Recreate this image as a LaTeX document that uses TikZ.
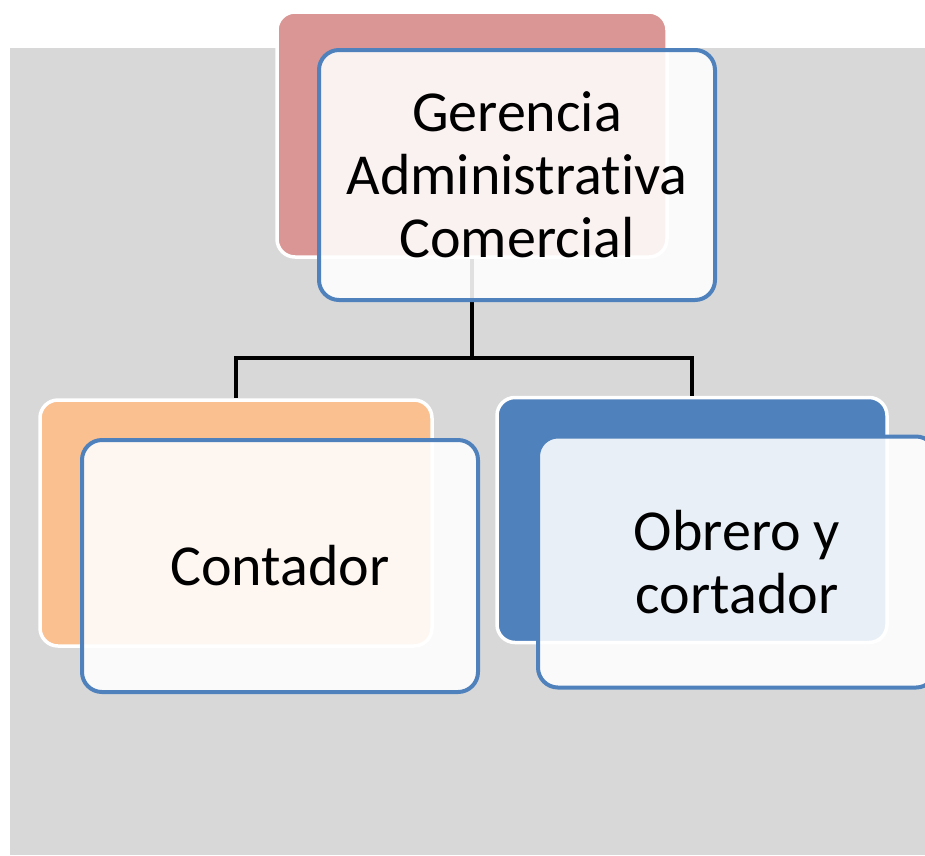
\documentclass[tikz,border=0pt]{standalone}
\usepackage{fontspec}
\setmainfont{Carlito}[Ligatures={NoCommon}]
\definecolor{bggray}{HTML}{D8D8D8}
\definecolor{pinkbox}{HTML}{D99694}
\definecolor{orangebox}{HTML}{FAC090}
\definecolor{bluebox}{HTML}{4F81BD}
\begin{document}
\begin{tikzpicture}[x=1pt,y=-1pt,
  backbox/.style={draw=white,line width=3.5pt,rounded corners=18pt,minimum width=390pt,minimum height=245pt,inner sep=0pt},
  frontbox/.style={draw=bluebox,line width=4pt,rounded corners=20pt,fill=white,fill opacity=0.88,text opacity=1,minimum width=396pt,minimum height=251pt,inner sep=0pt,align=center,font=\fontsize{58}{63}\selectfont},
  conn/.style={draw=black,line width=4pt}]
\useasboundingbox (0,0) rectangle (925,855);
\clip (0,0) rectangle (925,855);
\fill[bggray] (10,48) rectangle (925,855);
% back boxes
\node[backbox,fill=pinkbox] (tb) at (472,134.5) {};
\node[backbox,fill=orangebox,minimum width=392pt,minimum height=246pt] (lb) at (236,523) {};
\node[backbox,fill=bluebox] (rb) at (692,520) {};
% connectors
\coordinate (j) at (472,358);
\draw[conn] (tb.south) -- (j) -| (lb.north);
\draw[conn] (j) -| (rb.north);
% front boxes
\node[frontbox,minimum height=250pt] (tf) at (517,175) {Gerencia\\Administrativa\\Comercial};
\node[frontbox,minimum height=252pt] (lf) at (280,566) {Contador};
\node[frontbox,minimum width=398pt] (rf) at (737,562) {Obrero y\\cortador};
\end{tikzpicture}
\end{document}
